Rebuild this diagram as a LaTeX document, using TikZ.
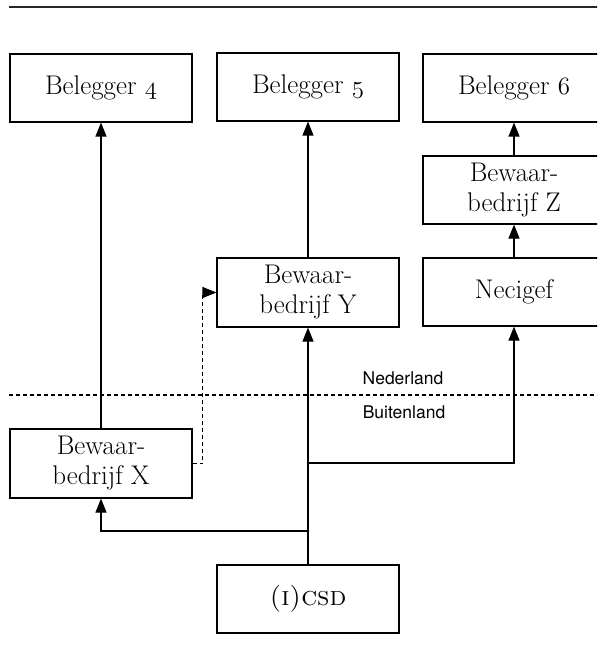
\documentclass[tikz,border=0pt]{standalone}
\usepackage{fontspec}
\newfontfamily\sansf{TeX Gyre Heros}
\usetikzlibrary{arrows.meta}
\newcommand\osn[1]{{\usefont{OML}{cmm}{m}{it}#1}}
\begin{document}
\begin{tikzpicture}[x=1pt,y=-1pt,
  box/.style={draw, line width=1.2pt, minimum width=182pt, minimum height=68pt,
    inner sep=0pt, align=center, font=\fontsize{27}{30}\selectfont},
  conn/.style={line width=1.2pt, -{Triangle[length=14pt,width=11pt]}},
  dconn/.style={conn, dash pattern=on 4pt off 3pt},
  lab/.style={font=\sansf\fontsize{17.5}{20}\selectfont, inner sep=0pt}]
\useasboundingbox (0,0) rectangle (597,660);
\clip (0,0) rectangle (597,660);
% top rule
\coordinate (tl) at (9,7);
\coordinate (tr) at (600,7);
\draw[line width=1.2pt, black!85] (tl) -- (tr);
% boxes
\node[box] (b4) at (101,88) {Belegger \osn{4}};
\node[box] (b5) at (308,87) {Belegger \osn{5}};
\node[box] (b6) at (514,88) {Belegger \osn{6}};
\node[box] (bz) at (514,190) {Bewaar-\\bedrijf Z};
\node[box] (nec) at (514,292) {Necigef};
\node[box, minimum height=69pt] (by) at (308,292.5) {Bewaar-\\bedrijf Y};
\node[box, minimum height=69pt] (bx) at (101,463.5) {Bewaar-\\bedrijf X};
\node[box] (csd) at (308,599) {\textsc{(i)csd}};
% border line
\coordinate (dl) at (9,395);
\coordinate (dr) at (600,395);
\draw[line width=1.2pt, dash pattern=on 4pt off 3pt] (dl) -- (dr);
\node[lab] (ned) at (403,378) {Nederland};
\node[lab] (bui) at (404,412) {Buitenland};
% connectors
\coordinate (j1) at (308,531);
\coordinate (j2) at (308,463);
\draw[conn] (bx) -- (b4);
\draw[conn] (by) -- (b5);
\draw[conn] (nec) -- (bz);
\draw[conn] (bz) -- (b6);
\draw[conn] (csd) -- (by);
\draw[conn] (j1) -| (bx);
\draw[conn] (j2) -| (nec);
\draw[dconn] (bx.east) -- ++(10,0) |- (by.west);
\end{tikzpicture}
\end{document}
